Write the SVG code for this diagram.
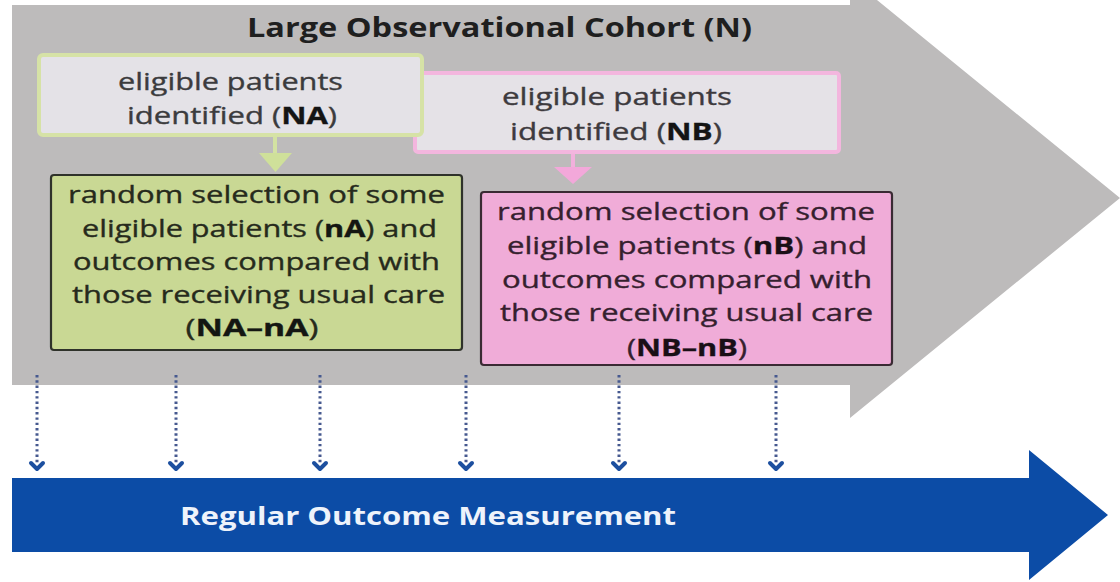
<svg xmlns="http://www.w3.org/2000/svg" width="1120" height="582" viewBox="0 0 1120 582">
  <style>
    .t { font-family: "Open Sans", "Liberation Sans", sans-serif; font-size: 23.5px; text-anchor: middle; stroke-width: 0.35px; }
    .title { font-family: "Open Sans", "Liberation Sans", sans-serif; font-size: 26px; font-weight: bold; text-anchor: middle; fill: #1f1f1f; }
    .band { font-family: "Open Sans", "Liberation Sans", sans-serif; font-size: 25px; font-weight: bold; text-anchor: middle; fill: #eef3fb; }
    .b { font-weight: bold; }
    .idA { fill: #3b3b3d; stroke: #3b3b3d; }
    .idB { fill: #3d3a3e; stroke: #3d3a3e; }
    .selA { fill: #262a1c; stroke: #262a1c; }
    .selB { fill: #35202e; stroke: #35202e; }
    .dots { stroke: #46598f; stroke-width: 3; stroke-dasharray: 2.4 2.9; fill: none; }
    .chev { stroke: #1c4f9f; stroke-width: 4; fill: none; stroke-linecap: round; stroke-linejoin: round; }
  </style>

  <rect width="1120" height="582" fill="#ffffff"/>

  <!-- cohort arrow (background) -->
  <g id="cohort">
    <polygon points="12,5 850,5 850,-22 1120,198 850,418 850,385 12,385" fill="#bdbbbb"/>
    <text class="title" x="499.5" y="37" textLength="505" lengthAdjust="spacingAndGlyphs">Large Observational Cohort (N)</text>
  </g>

  <!-- outcome measurement band -->
  <g id="measurement">
    <polygon points="12,478 1029,478 1029,450 1108,515 1029,580 1029,552 12,552" fill="#0c4ca6"/>
    <text class="band" x="428" y="525" textLength="496" lengthAdjust="spacingAndGlyphs">Regular Outcome Measurement</text>
  </g>

  <!-- site B: eligible patients -->
  <g id="eligibleB">
    <rect x="415" y="73" width="424" height="79" rx="3" fill="#e5e2e7" stroke="#f3b6de" stroke-width="4"/>
    <text class="t idB" x="617" y="105" textLength="230" lengthAdjust="spacingAndGlyphs">eligible patients</text>
    <text class="t idB" x="616" y="140" textLength="212" lengthAdjust="spacingAndGlyphs">identified (<tspan class="b" fill="#141414" stroke="#141414">NB</tspan>)</text>
  </g>

  <!-- site A: eligible patients -->
  <g id="eligibleA">
    <rect x="39" y="55" width="383" height="80" rx="4" fill="#e4e2e7" stroke="#d6e2a6" stroke-width="4"/>
    <text class="t idA" x="230.5" y="90" textLength="225" lengthAdjust="spacingAndGlyphs">eligible patients</text>
    <text class="t idA" x="232" y="124" textLength="210" lengthAdjust="spacingAndGlyphs">identified (<tspan class="b" fill="#141414" stroke="#141414">NA</tspan>)</text>
  </g>

  <!-- site A: randomised selection -->
  <g id="selectA">
    <rect x="51" y="175" width="411" height="175" rx="3" fill="#c9d894" stroke="#2f322a" stroke-width="2.2"/>
    <text class="t selA" x="256.5" y="203" textLength="377" lengthAdjust="spacingAndGlyphs">random selection of some</text>
    <text class="t selA" x="259.5" y="236.5" textLength="355" lengthAdjust="spacingAndGlyphs">eligible patients (<tspan class="b" fill="#141612" stroke="#141612">nA</tspan>) and</text>
    <text class="t selA" x="256.5" y="270" textLength="367" lengthAdjust="spacingAndGlyphs">outcomes compared with</text>
    <text class="t selA" x="258.5" y="303" textLength="373" lengthAdjust="spacingAndGlyphs">those receiving usual care</text>
    <text class="t selA" x="252" y="336" textLength="133" lengthAdjust="spacingAndGlyphs">(<tspan class="b" fill="#141612" stroke="#141612">NA–nA</tspan>)</text>
  </g>

  <!-- site B: randomised selection -->
  <g id="selectB">
    <rect x="481" y="192" width="411" height="173" rx="3" fill="#f0acd8" stroke="#3a2a33" stroke-width="2.2"/>
    <text class="t selB" x="686" y="220" textLength="378" lengthAdjust="spacingAndGlyphs">random selection of some</text>
    <text class="t selB" x="687" y="254" textLength="360" lengthAdjust="spacingAndGlyphs">eligible patients (<tspan class="b" fill="#1a0f16" stroke="#1a0f16">nB</tspan>) and</text>
    <text class="t selB" x="687" y="288" textLength="370" lengthAdjust="spacingAndGlyphs">outcomes compared with</text>
    <text class="t selB" x="686.5" y="321" textLength="373" lengthAdjust="spacingAndGlyphs">those receiving usual care</text>
    <text class="t selB" x="687" y="356" textLength="120" lengthAdjust="spacingAndGlyphs">(<tspan class="b" fill="#1a0f16" stroke="#1a0f16">NB–nB</tspan>)</text>
  </g>

  <!-- connectors -->
  <g id="connectors">
    <!-- identification to selection -->
    <line x1="275" y1="137" x2="275" y2="154" stroke="#d3e2a2" stroke-width="4"/>
    <polygon points="259,153 292,153 275.5,172" fill="#cfe09a"/>
    <line x1="573" y1="154" x2="573" y2="168" stroke="#f2b0dc" stroke-width="4"/>
    <polygon points="554,167 592,167 573,184" fill="#f3a8da"/>

    <!-- periodic measurement ticks -->
    <g>
      <line class="dots" x1="37" y1="375" x2="37" y2="464"/>
      <path class="chev" d="M31,463 L37,469 L43,463"/>
      <line class="dots" x1="176" y1="375" x2="176" y2="464"/>
      <path class="chev" d="M170,463 L176,469 L182,463"/>
      <line class="dots" x1="320" y1="375" x2="320" y2="464"/>
      <path class="chev" d="M314,463 L320,469 L326,463"/>
      <line class="dots" x1="466" y1="375" x2="466" y2="464"/>
      <path class="chev" d="M460,463 L466,469 L472,463"/>
      <line class="dots" x1="619" y1="375" x2="619" y2="464"/>
      <path class="chev" d="M613,463 L619,469 L625,463"/>
      <line class="dots" x1="776" y1="375" x2="776" y2="464"/>
      <path class="chev" d="M770,463 L776,469 L782,463"/>
    </g>
  </g>
</svg>
